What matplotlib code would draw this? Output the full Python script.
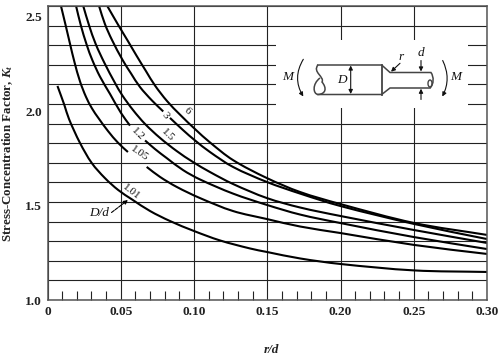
import numpy as np
import matplotlib
matplotlib.use("Agg")
import matplotlib.pyplot as plt
from matplotlib.patches import Rectangle, Ellipse, FancyArrowPatch, PathPatch
from matplotlib.path import Path

plt.rcParams["font.family"] = ["Liberation Serif", "DejaVu Serif"]
plt.rcParams["mathtext.fontset"] = "custom"
plt.rcParams["mathtext.rm"] = "Liberation Serif:bold"
plt.rcParams["mathtext.it"] = "Liberation Serif:italic:bold"
plt.rcParams["mathtext.bf"] = "Liberation Serif:bold"

nan = np.nan

# r/d and Kt, nan = gap where the curve label sits
rd_101 = [.0068, .0115, .0147, .0222, .0302, .0392, .0483, .0577, .07, .0836, .10, .1177, .1382, .1498, .1724, .1997, .2502, .30]
kt_101 = [2.092, 1.995, 1.923, 1.801, 1.699, 1.622, 1.561, 1.513, 1.454, 1.403, 1.352, 1.304, 1.263, 1.245, 1.212, 1.184, 1.151, 1.143]

rd_105 = [.0092, .0124, .0154, .0184, .0222, .0263, .0304, .0347, .0413, .0483, .0549, .06, .0677, .0768, .0882, .1041, .1266, .1498, .1724, .1997, .2502, .30]
kt_105 = [2.5, 2.401, 2.306, 2.214, 2.115, 2.036, 1.977, 1.929, 1.862, 1.801, 1.755, nan, 1.679, 1.628, 1.577, 1.52, 1.454, 1.413, 1.375, 1.342, 1.281, 1.235]

rd_12 = [.0195, .0227, .0268, .0306, .0358, .0427, .0502, .0563, .06, .0666, .0734, .0814, .0925, .1041, .1266, .1498, .1724, .1997, .2502, .30]
kt_12 = [2.5, 2.403, 2.301, 2.224, 2.14, 2.051, 1.954, 1.89, nan, 1.814, 1.77, 1.724, 1.663, 1.615, 1.543, 1.485, 1.436, 1.393, 1.321, 1.26]

rd_15 = [.0244, .0283, .0329, .0389, .0461, .0509, .0584, .0666, .0768, .0882, .0993, .1109, .1266, .1498, .1724, .1997, .2502, .30]
kt_15 = [2.5, 2.403, 2.306, 2.209, 2.107, 2.046, 1.969, 1.898, 1.827, 1.76, 1.704, 1.653, 1.592, 1.52, 1.472, 1.429, 1.357, 1.291]

rd_3 = [.0352, .0392, .044, .0513, .057, .0631, .0713, .079, .081, .0836, .0925, .1007, .1109, .1266, .1498, .1724, .1997, .2502, .30]
kt_3 = [2.5, 2.408, 2.327, 2.224, 2.156, 2.087, 2.018, 1.962, nan, 1.929, 1.867, 1.814, 1.755, 1.679, 1.602, 1.543, 1.48, 1.388, 1.311]

rd_6 = [.0408, .0483, .0549, .0609, .0672, .0734, .0816, .0904, .1007, .1109, .1266, .1498, .1724, .1997, .2502, .30]
kt_6 = [2.5, 2.403, 2.321, 2.245, 2.168, 2.094, 2.015, 1.946, 1.872, 1.804, 1.714, 1.622, 1.551, 1.49, 1.393, 1.332]

curves = [(rd_101, kt_101), (rd_105, kt_105), (rd_12, kt_12), (rd_15, kt_15), (rd_3, kt_3), (rd_6, kt_6)]

x_ticks = [0, 0.05, 0.10, 0.15, 0.20, 0.25, 0.30]
x_labels = ["0", "0.05", "0.10", "0.15", "0.20", "0.25", "0.30"]
y_labels = [1.0, 1.5, 2.0, 2.5]
y_label_drop = [2, 5, 9, 12]  # labels in the scan sit below their gridlines, px

curve_names = ["6", "3", "1.5", "1.2", "1.05", "1.01"]
curve_name_px = [(187, 111), (165, 115), (168, 135), (138, 134), (139, 154), (131.7, 191.7)]
curve_name_rot = [-42, -50, -45, -45, -35, -38]


def smooth_path(xs, ys):
    # bezier through the read points, tangents from the neighbours
    aspect = 7.47
    pts = np.column_stack([np.array(xs) * aspect, ys])
    verts = [tuple(pts[0])]
    codes = [Path.MOVETO]
    tang = np.zeros_like(pts)
    tang[1:-1] = pts[2:] - pts[:-2]
    tang[0] = pts[1] - pts[0]
    tang[-1] = pts[-1] - pts[-2]
    tang /= np.linalg.norm(tang, axis=1, keepdims=True)
    for i in range(len(pts) - 1):
        seg = np.linalg.norm(pts[i + 1] - pts[i]) / 3
        verts += [tuple(pts[i] + tang[i] * seg), tuple(pts[i + 1] - tang[i + 1] * seg), tuple(pts[i + 1])]
        codes += [Path.CURVE4] * 3
    verts = np.array(verts)
    verts[:, 0] /= aspect
    return Path(verts, codes)


fig = plt.figure(figsize=(5, 3.62), dpi=100)
ax = fig.add_axes([47.5 / 500, 1 - 300 / 362, 439.5 / 500, 294 / 362])
ax.set_xlim(0, 0.30)
ax.set_ylim(1.0, 2.5)

ax.set_xticks(x_ticks)
ax.set_xticklabels(x_labels, fontsize=9.6, fontweight="bold", color="#222222")
ax.set_xticks(np.arange(1, 30) / 100, minor=True)
ax.set_yticks(np.arange(10, 26) / 10)
ax.set_yticklabels([])
ax.tick_params(axis="both", which="major", length=0)
ax.tick_params(axis="x", which="major", pad=4.5)
ax.tick_params(axis="x", which="minor", direction="in", length=6.5, width=0.8, color="#222222")
ax.set_axisbelow(True)
ax.grid(True, which="major", color="#222222", linewidth=0.8)
for s in ax.spines.values():
    s.set_color("#555555")
    s.set_linewidth(1.1)

# the sketch sits on a cleared part of the grid
ax.add_patch(Rectangle((.156, 1.98), .131, .347, facecolor="white", edgecolor="none", zorder=1))

for rd, kt in curves:
    rd = np.array(rd)
    kt = np.array(kt)
    breaks = np.where(np.isnan(kt))[0]
    for part in np.split(np.arange(len(kt)), breaks):
        part = part[~np.isnan(kt[part])]
        ax.add_patch(PathPatch(smooth_path(rd[part], kt[part]), facecolor="none", edgecolor="black",
                               linewidth=1.5, zorder=2, capstyle="butt"))

for v, drop in zip(y_labels, y_label_drop):
    ax.annotate(f"{v:.1f}", (0, v), xytext=(-4, -drop * 0.72), textcoords="offset points",
                ha="right", va="center", fontsize=9.6, fontweight="bold",
                color="#222222", annotation_clip=False)

# everything below is placed in picture pixels
over = fig.add_axes([0, 0, 1, 1], facecolor="none")
over.set_xlim(0, 500)
over.set_ylim(362, 0)
over.axis("off")

over.text(8, 153.5, r"Stress-Concentration Factor, $\mathit{K}_{\mathit{t}}$", rotation=90,
          ha="center", va="center", fontsize=9.4, fontweight="bold", color="#222222")
over.text(271, 350, "r/d", ha="center", va="center", fontsize=9.5, fontstyle="italic",
          fontweight="bold", color="#222222")

for name, (px, py), rot in zip(curve_names, curve_name_px, curve_name_rot):
    over.text(px, py, name, rotation=rot, rotation_mode="anchor", ha="center", va="center",
              fontsize=8, color="#111111")

over.text(99.3, 213, "D/d", ha="center", va="center", fontsize=9.5, fontstyle="italic", color="#111111")
over.add_patch(FancyArrowPatch((111.5, 212.5), (128, 200), arrowstyle="-|>", mutation_scale=6,
                               linewidth=0.8, color="black", linestyle=(0, (3, 1)),
                               shrinkA=0, shrinkB=0))

gray = "#444444"
shaft = [((317.7, 65), (381.7, 65), (390, 72.5), (430.7, 72.5)),
         ((318, 94.5), (381.7, 94.5), (390, 88), (430, 88))]
for line in shaft:
    over.plot([p[0] for p in line], [p[1] for p in line], color=gray, linewidth=1.1)
over.plot([381.7, 381.7], [65, 94.5], color=gray, linewidth=1.3)

# wavy break of the large end
left_end = Path([(318, 65), (312, 72), (325, 77), (322, 82), (327, 88), (326, 94), (318, 94.5),
                 (313, 94), (312, 84), (320, 78)],
                [Path.MOVETO, Path.CURVE4, Path.CURVE4, Path.CURVE4, Path.CURVE4, Path.CURVE4, Path.CURVE4,
                 Path.CURVE4, Path.CURVE4, Path.CURVE4])
over.add_patch(PathPatch(left_end, facecolor="none", edgecolor=gray, linewidth=1.1))
right_end = Path([(431, 72.5), (434, 77), (434, 84), (430, 88)],
                 [Path.MOVETO, Path.CURVE4, Path.CURVE4, Path.CURVE4])
over.add_patch(PathPatch(right_end, facecolor="none", edgecolor=gray, linewidth=1.1))
over.add_patch(Ellipse((430, 83.5), 4, 7, facecolor="none", edgecolor=gray, linewidth=1))


def arrow(start, end, style="-|>", rad=0.0):
    over.add_patch(FancyArrowPatch(start, end, arrowstyle=style, mutation_scale=6, linewidth=0.8,
                                   color="#111111", shrinkA=0, shrinkB=0,
                                   connectionstyle=f"arc3,rad={rad}"))


arrow((350.7, 65.5), (350.7, 94), "<|-|>")
arrow((400, 63.3), (391, 71.7))
arrow((421, 60.5), (421, 71.5))
arrow((421, 99.5), (421, 88.7))
arrow((303.3, 59.3), (303.3, 96.5), rad=0.3)
arrow((442.7, 60.5), (442.3, 96.5), rad=-0.25)

for s, px, py in [("D", 341.7, 80), ("d", 421, 52.5), ("r", 400.7, 57.3), ("M", 287.3, 77.3), ("M", 455.7, 77.3)]:
    over.text(px, py, s, ha="center", va="center", fontsize=9.5, fontstyle="italic", color="#111111")

fig.savefig("out.png", dpi=100)
